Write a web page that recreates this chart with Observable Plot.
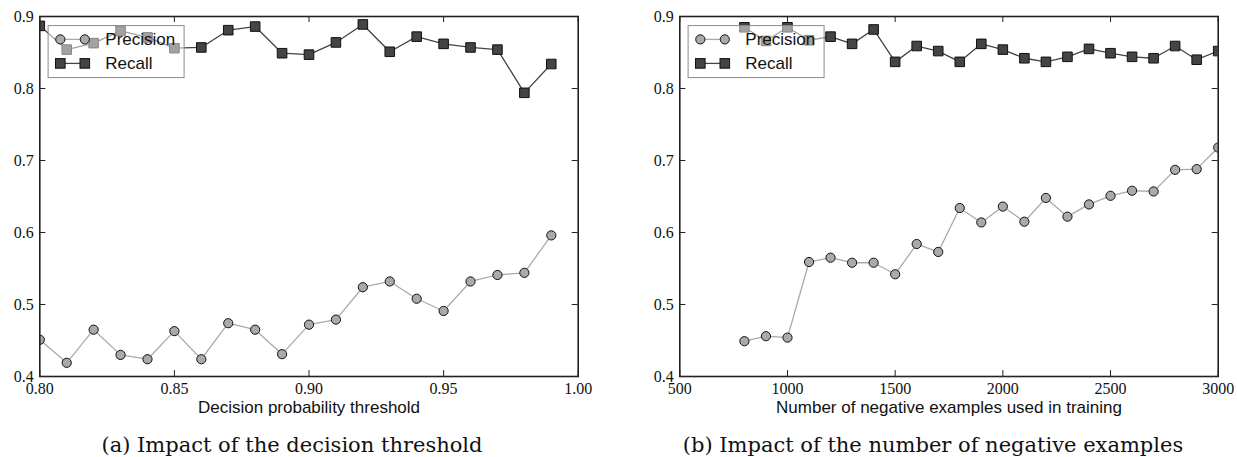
<!DOCTYPE html>
<html>
<head>
<meta charset="utf-8">
<script src="https://cdn.jsdelivr.net/npm/d3@7"></script>
<script src="https://cdn.jsdelivr.net/npm/@observablehq/plot@0.6"></script>
<style>
  html, body { margin: 0; padding: 0; background: #fff; }
  #root { position: relative; width: 1237px; height: 457px; overflow: hidden; }
  .panel { position: absolute; top: 0; }
  .legend { position: absolute; top: 0; left: 0; pointer-events: none; }
  .caption { position: absolute; top: 434px; font-family: "DejaVu Serif", serif; font-size: 21px; line-height: 22px; color: #111; white-space: nowrap; }
  svg g[aria-label="x-axis tick label"], svg g[aria-label="y-axis tick label"] { font-family: "Liberation Serif", "Times New Roman", serif; }
</style>
</head>
<body>
<div id="root"></div>
<script>
// ---- data ----
const thresholds = [0.80,0.81,0.82,0.83,0.84,0.85,0.86,0.87,0.88,0.89,0.90,0.91,0.92,0.93,0.94,0.95,0.96,0.97,0.98,0.99];
const precisionA = [0.451,0.419,0.465,0.430,0.424,0.463,0.424,0.474,0.465,0.431,0.472,0.479,0.524,0.532,0.508,0.491,0.532,0.541,0.544,0.596];
const recallA    = [0.887,0.854,0.863,0.880,0.871,0.856,0.857,0.881,0.886,0.849,0.847,0.864,0.889,0.851,0.872,0.862,0.857,0.854,0.794,0.834];

const negatives = [800,900,1000,1100,1200,1300,1400,1500,1600,1700,1800,1900,2000,2100,2200,2300,2400,2500,2600,2700,2800,2900,3000];
const precisionB = [0.449,0.456,0.454,0.559,0.565,0.558,0.558,0.542,0.584,0.573,0.634,0.614,0.636,0.615,0.648,0.622,0.639,0.651,0.658,0.657,0.687,0.688,0.718];
const recallB    = [0.885,0.866,0.885,0.867,0.872,0.862,0.882,0.837,0.859,0.852,0.837,0.862,0.854,0.842,0.837,0.844,0.855,0.849,0.844,0.842,0.859,0.840,0.852];

const xTicksA = [0.80,0.85,0.90,0.95,1.00];
const xTicksB = [500,1000,1500,2000,2500,3000];
const yTicks = [0.4,0.5,0.6,0.7,0.8,0.9];
const seriesNames = ["Precision","Recall"];
const xLabels = ["Decision probability threshold","Number of negative examples used in training"];
const captions = ["(a) Impact of the decision threshold","(b) Impact of the number of negative examples"];

const HEIGHT = 420, MT = 16, MB = 44;
const innerH = HEIGHT - MT - MB;
const TICK = 6;
const precColor = "#aaaaaa", recColor = "#444444";
const SERIF = "Liberation Serif, Times New Roman, serif";
const SANS = "Liberation Sans, Arial, sans-serif";

function makePanel({xs, prec, rec, xDomain, xTicks, xFormat, xLabel, width, ml, mr}) {
  const rows = xs.map((x, i) => ({x, p: prec[i], r: rec[i]}));
  const innerW = width - ml - mr;
  const svg = Plot.plot({
    width, height: HEIGHT,
    marginLeft: ml, marginRight: mr, marginTop: MT, marginBottom: MB,
    style: {background: "transparent", overflow: "visible"},
    x: {domain: xDomain},
    y: {domain: [0.4, 0.9]},
    marks: [
      Plot.line(rows, {x: "x", y: "p", stroke: precColor, strokeWidth: 1.3, clip: "frame"}),
      Plot.dot(rows, {x: "x", y: "p", r: 4.6, fill: precColor, stroke: "#111", strokeWidth: 1, clip: "frame"}),
      Plot.line(rows, {x: "x", y: "r", stroke: recColor, strokeWidth: 1.3, clip: "frame"}),
      Plot.dot(rows, {x: "x", y: "r", symbol: "square", r: 5.4, fill: recColor, stroke: "#111", strokeWidth: 1, clip: "frame"}),
      // inward ticks
      Plot.tickX(xTicks, {x: d => d, stroke: "#222", strokeWidth: 1, insetTop: innerH - TICK}),
      Plot.tickX(xTicks, {x: d => d, stroke: "#222", strokeWidth: 1, insetBottom: innerH - TICK}),
      Plot.tickY(yTicks, {y: d => d, stroke: "#222", strokeWidth: 1, insetRight: innerW - TICK}),
      Plot.tickY(yTicks, {y: d => d, stroke: "#222", strokeWidth: 1, insetLeft: innerW - TICK}),
      Plot.frame({stroke: "#222", strokeWidth: 1.6}),
      Plot.axisX({ticks: xTicks, tickFormat: xFormat, tickSize: 0, tickPadding: 6, label: null,
                  fontFamily: SERIF, fontSize: 16, fill: "#111"}),
      Plot.axisY({ticks: yTicks, tickFormat: d3.format(".1f"), tickSize: 0, tickPadding: 6, label: null,
                  fontFamily: SERIF, fontSize: 16, fill: "#111"}),
      Plot.text([xLabel], {text: d => d, frameAnchor: "bottom", lineAnchor: "middle", dy: 31,
                  fontFamily: SANS, fontSize: 17, fill: "#111"})
    ]
  });
  svg.querySelectorAll('g[aria-label="x-axis tick label"], g[aria-label="y-axis tick label"]')
     .forEach(g => g.setAttribute("font-family", SERIF));
  return svg;
}

function legendSVG(ml) {
  const ns = "http://www.w3.org/2000/svg";
  const svg = document.createElementNS(ns, "svg");
  svg.setAttribute("width", 400); svg.setAttribute("height", 120);
  svg.setAttribute("class", "legend");
  const bx = ml + 8.8, by = MT + 9.6, bw = 136, bh = 52;
  const el = (tag, attrs) => { const e = document.createElementNS(ns, tag); for (const k in attrs) e.setAttribute(k, attrs[k]); svg.appendChild(e); return e; };
  el("rect", {x: bx, y: by, width: bw, height: bh, fill: "#fff", "fill-opacity": 0.5, stroke: "#8a8a8a", "stroke-width": 1});
  const rowsY = [by + 13.8, by + 37.8];
  const x1 = ml + 21, x2 = ml + 45.5;
  el("line", {x1, x2, y1: rowsY[0], y2: rowsY[0], stroke: precColor, "stroke-width": 1.3});
  for (const cx of [x1, x2]) el("circle", {cx, cy: rowsY[0], r: 4.6, fill: precColor, stroke: "#111", "stroke-width": 1});
  el("line", {x1, x2, y1: rowsY[1], y2: rowsY[1], stroke: recColor, "stroke-width": 1.3});
  for (const cx of [x1, x2]) el("rect", {x: cx - 4.8, y: rowsY[1] - 4.8, width: 9.6, height: 9.6, fill: recColor, stroke: "#111", "stroke-width": 1});
  seriesNames.forEach((name, i) => {
    const t = el("text", {x: ml + 66, y: rowsY[i], "dominant-baseline": "central",
      "font-family": SANS, "font-size": 17, fill: "#111"});
    t.textContent = name;
  });
  return svg;
}

const root = document.getElementById("root");
const panels = [
  {left: 0, width: 618, ml: 39.3, mr: 40.3, xs: thresholds, prec: precisionA, rec: recallA,
   xDomain: [0.80, 1.00], xTicks: xTicksA, xFormat: d3.format(".2f"), xLabel: xLabels[0], caption: captions[0], capCenter: 292},
  {left: 618, width: 619, ml: 61.3, mr: 19.3, xs: negatives, prec: precisionB, rec: recallB,
   xDomain: [500, 3000], xTicks: xTicksB, xFormat: d3.format("d"), xLabel: xLabels[1], caption: captions[1], capCenter: 933}
];
for (const p of panels) {
  const div = document.createElement("div");
  div.className = "panel";
  div.style.left = p.left + "px";
  div.style.width = p.width + "px";
  div.style.height = HEIGHT + "px";
  div.appendChild(makePanel(p));
  div.appendChild(legendSVG(p.ml));
  root.appendChild(div);
  const cap = document.createElement("div");
  cap.className = "caption";
  cap.textContent = p.caption;
  root.appendChild(cap);
  const w = cap.getBoundingClientRect().width;
  cap.style.left = (p.capCenter - w / 2) + "px";
}
</script>
</body>
</html>
